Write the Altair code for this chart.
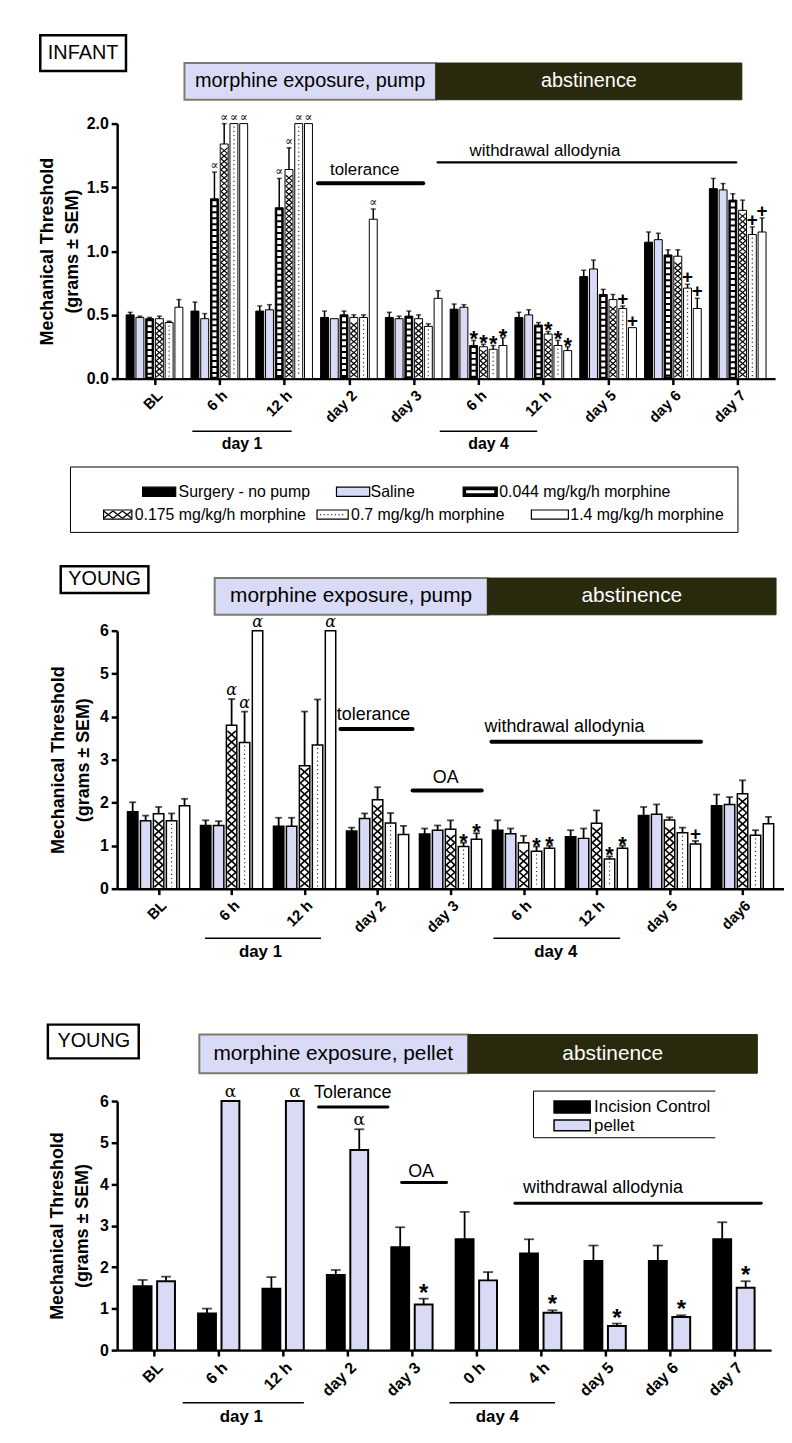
import altair as alt
import pandas as pd

FONT = "Liberation Sans"
SERIF = "DejaVu Serif"
LAV = "#d9dbf6"
DARK = "#29290e"
BOXEDGE = "#7b7b6b"

# ================= Panel 1 : INFANT, pump =================
p1_labels = ["BL", "6 h", "12 h", "day 2", "day 3", "6 h", "12 h", "day 5", "day 6", "day 7"]
p1_series = ["Surgery - no pump", "Saline", "0.044 mg/kg/h morphine",
             "0.175 mg/kg/h morphine", "0.7 mg/kg/h morphine", "1.4 mg/kg/h morphine"]
p1_surgery     = [0.50, 0.53, 0.53, 0.48, 0.48, 0.545, 0.48, 0.80, 1.07, 1.49]
p1_surgery_err = [0.02, 0.07, 0.04, 0.05, 0.04, 0.04, 0.04, 0.05, 0.08, 0.08]
p1_saline      = [0.48, 0.47, 0.54, 0.47, 0.47, 0.56, 0.50, 0.86, 1.09, 1.48]
p1_saline_err  = [0.01, 0.04, 0.04, 0.00, 0.02, 0.02, 0.04, 0.07, 0.05, 0.05]
p1_m0044       = [0.47, 1.41, 1.34, 0.50, 0.49, 0.26, 0.42, 0.66, 0.97, 1.40]
p1_m0044_err   = [0.01, 0.21, 0.23, 0.03, 0.04, 0.04, 0.02, 0.04, 0.04, 0.05]
p1_m0175       = [0.47, 1.84, 1.64, 0.48, 0.47, 0.25, 0.35, 0.62, 0.96, 1.32]
p1_m0175_err   = [0.02, 0.16, 0.17, 0.02, 0.03, 0.02, 0.02, 0.04, 0.05, 0.08]
p1_m07         = [0.44, 2.00, 2.00, 0.48, 0.41, 0.23, 0.26, 0.55, 0.71, 1.13]
p1_m07_err     = [0.01, 0.00, 0.00, 0.02, 0.02, 0.03, 0.04, 0.02, 0.03, 0.06]
p1_m14         = [0.56, 2.00, 2.00, 1.25, 0.63, 0.26, 0.22, 0.40, 0.55, 1.15]
p1_m14_err     = [0.06, 0.00, 0.00, 0.08, 0.06, 0.06, 0.03, 0.00, 0.08, 0.11]
p1_alpha = [(1, 2), (1, 3), (1, 4), (1, 5), (2, 2), (2, 3), (2, 4), (2, 5), (3, 5)]
p1_star = [(5, 2), (5, 3), (5, 4), (5, 5), (6, 3), (6, 4), (6, 5)]
p1_plus = [(7, 4), (7, 5), (8, 4), (8, 5), (9, 4), (9, 5)]

# ================= Panel 2 : YOUNG, pump =================
p2_labels = ["BL", "6 h", "12 h", "day 2", "day 3", "6 h", "12 h", "day 5", "day6"]
p2_series = ["Surgery - no pump", "Saline", "0.175 mg/kg/h morphine",
             "0.7 mg/kg/h morphine", "1.4 mg/kg/h morphine"]
p2_surgery     = [1.79, 1.47, 1.45, 1.34, 1.27, 1.36, 1.21, 1.70, 1.93]
p2_surgery_err = [0.22, 0.12, 0.20, 0.08, 0.13, 0.23, 0.15, 0.20, 0.26]
p2_saline      = [1.58, 1.47, 1.45, 1.63, 1.36, 1.28, 1.17, 1.73, 1.96]
p2_saline_err  = [0.12, 0.10, 0.20, 0.12, 0.11, 0.12, 0.23, 0.23, 0.17]
p2_m0175       = [1.74, 3.80, 2.86, 2.07, 1.38, 1.07, 1.52, 1.60, 2.21]
p2_m0175_err   = [0.16, 0.61, 1.26, 0.29, 0.21, 0.16, 0.30, 0.06, 0.31]
p2_m07         = [1.58, 3.40, 3.34, 1.53, 0.98, 0.87, 0.69, 1.30, 1.24]
p2_m07_err     = [0.17, 0.72, 1.06, 0.23, 0.09, 0.11, 0.06, 0.12, 0.12]
p2_m14         = [1.93, 6.00, 6.00, 1.26, 1.15, 0.94, 0.94, 1.04, 1.51]
p2_m14_err     = [0.16, 0.00, 0.00, 0.20, 0.14, 0.06, 0.06, 0.07, 0.16]
p2_alpha = [(1, 2), (1, 3), (1, 4), (2, 4)]
p2_star = [(4, 3), (4, 4), (5, 3), (5, 4), (6, 3), (6, 4)]
p2_plus = [(7, 4)]

# ================= Panel 3 : YOUNG, pellet =================
p3_labels = ["BL", "6 h", "12 h", "day 2", "day 3", "0 h", "4 h", "day 5", "day 6", "day 7"]
p3_series = ["Incision Control", "pellet"]
p3_control     = [1.54, 0.88, 1.48, 1.81, 2.48, 2.67, 2.33, 2.15, 2.15, 2.67]
p3_control_err = [0.15, 0.12, 0.28, 0.12, 0.48, 0.66, 0.34, 0.37, 0.37, 0.41]
p3_pellet      = [1.66, 6.00, 6.00, 4.82, 1.10, 1.68, 0.90, 0.58, 0.80, 1.50]
p3_pellet_err  = [0.11, 0.00, 0.00, 0.50, 0.14, 0.20, 0.06, 0.06, 0.04, 0.16]
p3_alpha = [(1, 1), (2, 1), (3, 1)]
p3_star = [(4, 1), (6, 1), (7, 1), (8, 1), (9, 1)]


# ---------------------------------------------------------------
def long_table(series, values, errors):
    rows = []
    for s, (name, vals, errs) in enumerate(zip(series, values, errors)):
        for g, (v, e) in enumerate(zip(vals, errs)):
            rows.append({"group": g, "s": s, "series": name, "value": v, "err": e, "top": v + e})
    return pd.DataFrame(rows)


def marker_table(values, errors, marks, sym):
    return pd.DataFrame([{"group": g, "s": s, "top": values[s][g] + errors[s][g], "sym": sym}
                         for g, s in marks])


def make_axes(labels, yvals, yfmt, title_pad, xlab):
    n = len(labels)
    x_axis = alt.Axis(values=list(range(n)), labelExpr=f"{labels}[datum.value]",
                      labelAngle=315, labelAlign="right", labelBaseline="top",
                      labelFont=FONT, labelFontSize=xlab, labelFontWeight="bold",
                      labelColor="black", labelPadding=3, labelOverlap=False,
                      tickSize=6, tickWidth=2.5, tickColor="black",
                      domainWidth=2.5, domainColor="black", grid=False, title=None)
    y_axis = alt.Axis(values=yvals, format=yfmt, labelFont=FONT, labelFontSize=16,
                      labelFontWeight="bold", labelColor="black", labelPadding=3,
                      tickSize=6, tickWidth=2.5, tickColor="black",
                      domainWidth=2.5, domainColor="black", grid=False,
                      title=["Mechanical Threshold", "(grams \u00b1 SEM)"],
                      titleFont=FONT, titleFontSize=18, titleFontWeight="bold",
                      titleColor="black", titleLineHeight=25, titlePadding=title_pad)
    return x_axis, y_axis


def build_panel(table, labels, series, fills, patterns, slot, bar_w, bar_sw, err_w, cap_w,
                width, height, ymax, yvals, yfmt, title_pad, xlab, markers,
                rect_rows, text_rows, line_rows, spacers, extra=None, cross=(6, 1.2)):
    n = len(labels)
    XS = alt.Scale(domain=[-0.5, n - 0.5], nice=False, zero=False)
    YS = alt.Scale(domain=[0, ymax], nice=False, zero=False)
    XA, YA = make_axes(labels, yvals, yfmt, title_pad, xlab)
    ppu = height / ymax

    def X(f):
        return alt.X(f, scale=XS, axis=XA)

    def Y(f):
        return alt.Y(f, scale=YS, axis=YA)

    pos = f"datum.group + (datum.s - {(len(series) - 1) / 2}) * {slot}"
    Y0 = alt.Y2Datum(0)
    base = alt.Chart(table).transform_calculate(xpos=pos)
    layers = [base.mark_bar(width=bar_w, stroke="black", strokeWidth=bar_sw).encode(
        x=X("xpos:Q"), y=Y("value:Q"), y2=Y0,
        fill=alt.Fill("series:N", scale=alt.Scale(domain=series, range=fills), legend=None))]
    for s, kind in patterns.items():
        f = base.transform_filter(f"datum.s == {s}")
        w = bar_w
        if kind == "ladder":
            layers.append(f.mark_rule(color="white", strokeWidth=w - 4, strokeDash=[4, 2],
                                      yOffset=2.5, y2Offset=-2).encode(x=X("xpos:Q"), y=Y("value:Q"), y2=Y0))
        elif kind == "cross":
            cell, lw = cross
            inset = w / 2 - bar_sw / 2 - 0.2
            f2 = (f.transform_calculate(cnt=f"max(0, floor((datum.value * {ppu} - 3) / {cell}))")
                  .transform_calculate(k="sequence(0, datum.cnt)")
                  .transform_flatten(["k"])
                  .transform_calculate(ya=f"(datum.k * {cell} + 1.5) / {ppu}",
                                       yb=f"((datum.k + 1) * {cell} + 1.5) / {ppu}"))
            layers.append(f2.mark_rule(color="black", strokeWidth=lw, xOffset=-inset, x2Offset=inset)
                          .encode(x=X("xpos:Q"), x2="xpos:Q", y=Y("ya:Q"), y2="yb:Q"))
            layers.append(f2.mark_rule(color="black", strokeWidth=lw, xOffset=-inset, x2Offset=inset)
                          .encode(x=X("xpos:Q"), x2="xpos:Q", y=Y("yb:Q"), y2="ya:Q"))
        elif kind == "dots":
            layers.append(f.mark_rule(color="#333333", strokeWidth=1.2, strokeDash=[1.2, 3],
                                      yOffset=3, y2Offset=-2).encode(x=X("xpos:Q"), y=Y("value:Q"), y2=Y0))
    eb = base.transform_filter("datum.err > 0")
    layers.append(eb.mark_rule(color="black", strokeWidth=err_w).encode(
        x=X("xpos:Q"), y=Y("value:Q"), y2="top:Q"))
    layers.append(eb.mark_tick(orient="horizontal", size=cap_w, thickness=err_w, color="black")
                  .encode(x=X("xpos:Q"), y=Y("top:Q")))
    for mdf, mk in markers:
        layers.append(alt.Chart(mdf).transform_calculate(xpos=pos)
                      .mark_text(color="black", baseline="alphabetic", **mk)
                      .encode(x=X("xpos:Q"), y=Y("top:Q"), text="sym:N"))
    for rows, mk in rect_rows:
        layers.append(alt.Chart(pd.DataFrame(rows)).mark_rect(**mk).encode(
            x=X("x1:Q"), x2="x2:Q", y=Y("y1:Q"), y2="y2:Q"))
    for rows, mk in line_rows:
        layers.append(alt.Chart(pd.DataFrame(rows)).mark_rule(color="black", **mk).encode(
            x=X("x1:Q"), x2="x2:Q", y=Y("y:Q")))
    for rows, mk in text_rows:
        layers.append(alt.Chart(pd.DataFrame(rows)).mark_text(font=FONT, baseline="middle", **mk).encode(
            x=X("x:Q"), y=Y("y:Q"), text="t:N"))
    if extra:
        layers += extra(X, Y)
    for sx, sy in spacers:
        layers.append(alt.Chart(pd.DataFrame({"k": [0]})).mark_point(
            size=1, filled=True, color="white", opacity=1, strokeWidth=0).encode(
            x=alt.value(sx), y=alt.value(sy)))
    return alt.layer(*layers).properties(width=width, height=height)


# ---------------- Panel 1 ----------------
p1_vals = [p1_surgery, p1_saline, p1_m0044, p1_m0175, p1_m07, p1_m14]
p1_errs = [p1_surgery_err, p1_saline_err, p1_m0044_err, p1_m0175_err, p1_m07_err, p1_m14_err]
p1_table = long_table(p1_series, p1_vals, p1_errs)
p1_fills = ["black", LAV, "black", "white", "white", "white"]


def p1_legend(X, Y):
    out = []
    box = pd.DataFrame([{"x1": -1.297, "x2": 9.004, "y1": -0.693, "y2": -1.206}])
    out.append(alt.Chart(box).mark_rect(fill="white", stroke="black", strokeWidth=1).encode(
        x=X("x1:Q"), x2="x2:Q", y=Y("y1:Q"), y2="y2:Q"))
    r1, r2, h = -0.887, -1.066, 0.036
    sw = [(-0.184, 0.327, r1, "black", "none"), (2.808, 3.32, r1, LAV, "none"),
          (4.763, 5.289, r1, "black", "ladder"), (-0.786, -0.35, r2, "white", "cross"),
          (2.508, 2.989, r2, "white", "dots"), (5.816, 6.387, r2, "white", "none")]
    sdf = pd.DataFrame([{"x1": a, "x2": b, "y1": r - h, "y2": r + h, "y": r, "fill": c, "kind": k}
                        for a, b, r, c, k in sw])
    out.append(alt.Chart(sdf).mark_rect(stroke="black", strokeWidth=1.2).encode(
        x=X("x1:Q"), x2="x2:Q", y=Y("y1:Q"), y2="y2:Q", fill=alt.Fill("fill:N", scale=None)))
    sc = alt.Chart(sdf)
    out.append(sc.transform_filter("datum.kind == 'ladder'").mark_rule(
        color="white", strokeWidth=3, xOffset=3, x2Offset=-3).encode(
        x=X("x1:Q"), x2="x2:Q", y=Y("y:Q")))
    # cross-hatch swatch: three X cells
    a, b = -0.786, -0.35
    cells = pd.DataFrame([{"c1": a + j * (b - a) / 3, "c2": a + (j + 1) * (b - a) / 3,
                           "ya": r2 - h * 0.8, "yb": r2 + h * 0.8} for j in range(3)])
    out.append(alt.Chart(cells).mark_rule(color="black", strokeWidth=1.3).encode(
        x=X("c1:Q"), x2="c2:Q", y=Y("ya:Q"), y2="yb:Q"))
    out.append(alt.Chart(cells).mark_rule(color="black", strokeWidth=1.3).encode(
        x=X("c1:Q"), x2="c2:Q", y=Y("yb:Q"), y2="ya:Q"))
    out.append(sc.transform_filter("datum.kind == 'dots'").mark_rule(
        color="#333333", strokeWidth=1.2, strokeDash=[1.2, 2.5], xOffset=3, x2Offset=-3).encode(
        x=X("x1:Q"), x2="x2:Q", y=Y("y:Q")))
    tdf = pd.DataFrame([{"x": 0.372, "y": r1, "t": p1_series[0]}, {"x": 3.335, "y": r1, "t": p1_series[1]},
                        {"x": 5.32, "y": r1, "t": p1_series[2]}, {"x": -0.305, "y": r2, "t": p1_series[3]},
                        {"x": 3.034, "y": r2, "t": p1_series[4]}, {"x": 6.417, "y": r2, "t": p1_series[5]}])
    out.append(alt.Chart(tdf).mark_text(font=FONT, fontSize=16, align="left", baseline="middle",
                                        color="black").encode(x=X("x:Q"), y=Y("y:Q"), text="t:N"))
    return out


p1 = build_panel(
    p1_table, p1_labels, p1_series, p1_fills, {2: "ladder", 3: "cross", 4: "dots"},
    slot=0.1504, bar_w=8, bar_sw=1, err_w=1.5, cap_w=5,
    width=663, height=257, ymax=2, yvals=[0, 0.5, 1, 1.5, 2], yfmt=".1f", title_pad=5, xlab=15,
    markers=[
        (marker_table(p1_vals, p1_errs, p1_alpha, "\u221d"),
         dict(font=SERIF, fontSize=12, fontStyle="italic", dy=-3)),
        (marker_table(p1_vals, p1_errs, p1_star, "*"),
         dict(font=FONT, fontSize=22, fontWeight="bold", dy=6)),
        (marker_table(p1_vals, p1_errs, p1_plus, "+"),
         dict(font=FONT, fontSize=19, fontWeight="bold", dy=-1)),
    ],
    rect_rows=[
        ([{"x1": -1.763, "x2": -0.44, "y1": 2.412, "y2": 2.693}],
         dict(fill="white", stroke="black", strokeWidth=2.5)),
        ([{"x1": 0.462, "x2": 4.342, "y1": 2.187, "y2": 2.475}],
         dict(fill=LAV, stroke=BOXEDGE, strokeWidth=2)),
        ([{"x1": 4.342, "x2": 9.064, "y1": 2.187, "y2": 2.475}],
         dict(fill=DARK, stroke=DARK, strokeWidth=1)),
    ],
    text_rows=[
        ([{"x": -1.102, "y": 2.553, "t": "INFANT"},
          {"x": 2.402, "y": 2.331, "t": "morphine exposure, pump"}],
         dict(fontSize=20, color="black")),
        ([{"x": 6.703, "y": 2.331, "t": "abstinence"}], dict(fontSize=20, color="white")),
        ([{"x": 3.244, "y": 1.634, "t": "tolerance"},
          {"x": 6.026, "y": 1.782, "t": "withdrawal allodynia"}], dict(fontSize=17, color="black")),
        ([{"x": 1.35, "y": -0.514, "t": "day 1"}, {"x": 5.154, "y": -0.514, "t": "day 4"}],
         dict(fontSize=16, fontWeight="bold", color="black")),
    ],
    line_rows=[
        ([{"x1": 2.523, "x2": 4.147, "y": 1.533}], dict(strokeWidth=4, strokeCap="round")),
        ([{"x1": 4.372, "x2": 8.974, "y": 1.696}], dict(strokeWidth=2.5, strokeCap="round")),
        ([{"x1": 0.583, "x2": 2.117, "y": -0.412}, {"x1": 4.402, "x2": 5.906, "y": -0.412}],
         dict(strokeWidth=1.5)),
    ],
    spacers=[(-109, -110), (-109, 426)],
    extra=p1_legend,
    cross=(5.5, 1.2),
)

# ---------------- Panel 2 ----------------
p2_vals = [p2_surgery, p2_saline, p2_m0175, p2_m07, p2_m14]
p2_errs = [p2_surgery_err, p2_saline_err, p2_m0175_err, p2_m07_err, p2_m14_err]
p2_table = long_table(p2_series, p2_vals, p2_errs)
p2 = build_panel(
    p2_table, p2_labels, p2_series, ["black", LAV, "white", "white", "white"],
    {2: "cross", 3: "dots"},
    slot=0.1776, bar_w=10.5, bar_sw=1.5, err_w=1.8, cap_w=7,
    width=672, height=260, ymax=6, yvals=[0, 1, 2, 3, 4, 5, 6], yfmt="d", title_pad=7, xlab=15,
    markers=[
        (marker_table(p2_vals, p2_errs, p2_alpha, "\u03b1"),
         dict(font=SERIF, fontSize=16, fontStyle="italic", dy=-4)),
        (marker_table(p2_vals, p2_errs, p2_star, "*"),
         dict(font=FONT, fontSize=22, fontWeight="bold", dy=6)),
        (marker_table(p2_vals, p2_errs, p2_plus, "+"),
         dict(font=FONT, fontSize=19, fontWeight="bold", dy=-1)),
    ],
    rect_rows=[
        ([{"x1": -1.341, "x2": -0.14, "y1": 6.877, "y2": 7.50}],
         dict(fill="white", stroke="black", strokeWidth=2.5)),
        ([{"x1": 0.768, "x2": 4.507, "y1": 6.370, "y2": 7.224}],
         dict(fill=LAV, stroke=BOXEDGE, strokeWidth=2)),
        ([{"x1": 4.507, "x2": 8.459, "y1": 6.370, "y2": 7.224}],
         dict(fill=DARK, stroke=DARK, strokeWidth=1)),
    ],
    text_rows=[
        ([{"x": -0.74, "y": 7.19, "t": "YOUNG"}], dict(fontSize=20, color="black")),
        ([{"x": 2.637, "y": 6.797, "t": "morphine exposure, pump"}], dict(fontSize=21, color="black")),
        ([{"x": 6.483, "y": 6.797, "t": "abstinence"}], dict(fontSize=21, color="white")),
        ([{"x": 2.945, "y": 4.039, "t": "tolerance"}, {"x": 3.933, "y": 2.562, "t": "OA"},
          {"x": 5.561, "y": 3.762, "t": "withdrawal allodynia"}], dict(fontSize=18, color="black")),
        ([{"x": 1.396, "y": -1.48, "t": "day 1"}, {"x": 5.441, "y": -1.48, "t": "day 4"}],
         dict(fontSize=17, fontWeight="bold", color="black")),
    ],
    line_rows=[
        ([{"x1": 2.491, "x2": 3.479, "y": 3.716}, {"x1": 3.479, "x2": 4.427, "y": 2.285},
          {"x1": 4.560, "x2": 7.431, "y": 3.416}], dict(strokeWidth=4, strokeCap="round")),
        ([{"x1": 0.635, "x2": 2.224, "y": -1.154}, {"x1": 4.587, "x2": 6.323, "y": -1.154}],
         dict(strokeWidth=1.5)),
    ],
    spacers=[(-99, -83), (-99, 377)],
    cross=(7.5, 1.6),
)

# ---------------- Panel 3 ----------------
p3_vals = [p3_control, p3_pellet]
p3_errs = [p3_control_err, p3_pellet_err]
p3_table = long_table(p3_series, p3_vals, p3_errs)


def p3_legend(X, Y):
    out = []
    hl = pd.DataFrame([{"x1": 5.888, "x2": 8.711, "y": 6.24}, {"x1": 5.888, "x2": 8.711, "y": 5.116}])
    out.append(alt.Chart(hl).mark_rule(color="black", strokeWidth=1).encode(
        x=X("x1:Q"), x2="x2:Q", y=Y("y:Q")))
    vl = pd.DataFrame([{"x": 5.888, "y1": 5.116, "y2": 6.24}])
    out.append(alt.Chart(vl).mark_rule(color="black", strokeWidth=1).encode(
        x=X("x:Q"), y=Y("y1:Q"), y2="y2:Q"))
    sw = pd.DataFrame([{"x1": 6.207, "x2": 6.768, "y1": 5.714, "y2": 6.0, "fill": "black"},
                       {"x1": 6.207, "x2": 6.768, "y1": 5.283, "y2": 5.546, "fill": LAV}])
    out.append(alt.Chart(sw).mark_rect(stroke="black", strokeWidth=1.5).encode(
        x=X("x1:Q"), x2="x2:Q", y=Y("y1:Q"), y2="y2:Q", fill=alt.Fill("fill:N", scale=None)))
    tx = pd.DataFrame([{"x": 6.829, "y": 5.857, "t": p3_series[0]},
                       {"x": 6.829, "y": 5.403, "t": p3_series[1]}])
    out.append(alt.Chart(tx).mark_text(font=FONT, fontSize=17, align="left", baseline="middle",
                                       color="black").encode(x=X("x:Q"), y=Y("y:Q"), text="t:N"))
    return out


p3 = build_panel(
    p3_table, p3_labels, p3_series, ["black", LAV], {},
    slot=0.364, bar_w=18, bar_sw=2, err_w=1.8, cap_w=10,
    width=659, height=251, ymax=6, yvals=[0, 1, 2, 3, 4, 5, 6], yfmt="d", title_pad=8, xlab=16,
    markers=[
        (marker_table(p3_vals, p3_errs, p3_alpha, "\u03b1"),
         dict(font=SERIF, fontSize=17, dy=-4)),
        (marker_table(p3_vals, p3_errs, p3_star, "*"),
         dict(font=FONT, fontSize=24, fontWeight="bold", dy=2)),
    ],
    rect_rows=[
        ([{"x1": -1.653, "x2": -0.242, "y1": 7.028, "y2": 7.841}],
         dict(fill="white", stroke="black", strokeWidth=2.5)),
        ([{"x1": 0.699, "x2": 4.872, "y1": 6.670, "y2": 7.602}],
         dict(fill=LAV, stroke=BOXEDGE, strokeWidth=2)),
        ([{"x1": 4.872, "x2": 9.363, "y1": 6.670, "y2": 7.602}],
         dict(fill=DARK, stroke=DARK, strokeWidth=1)),
    ],
    text_rows=[
        ([{"x": -0.94, "y": 7.435, "t": "YOUNG"}], dict(fontSize=20, color="black")),
        ([{"x": 2.778, "y": 7.136, "t": "morphine exposure, pellet"}], dict(fontSize=21, color="black")),
        ([{"x": 7.118, "y": 7.136, "t": "abstinence"}], dict(fontSize=21, color="white")),
        ([{"x": 3.081, "y": 6.192, "t": "Tolerance"}, {"x": 4.143, "y": 4.279, "t": "OA"},
          {"x": 6.966, "y": 3.897, "t": "withdrawal allodynia"}], dict(fontSize=18, color="black")),
        ([{"x": 1.351, "y": -1.60, "t": "day 1"}, {"x": 5.327, "y": -1.60, "t": "day 4"}],
         dict(fontSize=17, fontWeight="bold", color="black")),
    ],
    line_rows=[
        ([{"x1": 2.55, "x2": 3.627, "y": 5.857}, {"x1": 3.84, "x2": 4.538, "y": 4.04},
          {"x1": 5.6, "x2": 9.424, "y": 3.538}], dict(strokeWidth=3, strokeCap="round")),
        ([{"x1": 0.441, "x2": 2.322, "y": -1.267}, {"x1": 4.583, "x2": 6.222, "y": -1.267}],
         dict(strokeWidth=1.5)),
    ],
    spacers=[(-102, -95)],
    extra=p3_legend,
)

chart = alt.vconcat(p1, p2, p3, spacing=0).properties(padding=0).configure_view(strokeWidth=0)
chart.save("out.html", embed_options={"renderer": "svg", "actions": False})
